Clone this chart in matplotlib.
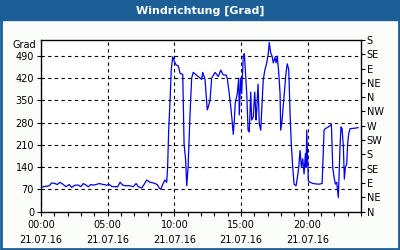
import matplotlib
matplotlib.use("Agg")
import matplotlib.pyplot as plt
from matplotlib.patches import Rectangle
from matplotlib.ticker import MultipleLocator

# hours since 00:00 on 21.07.16 and wind direction in degrees
hours = [0.0, 0.30, 0.62, 0.80, 1.05, 1.22, 1.43, 1.67, 1.88, 2.12, 2.30, 2.55, 2.80, 2.98,
         3.17, 3.38, 3.55, 3.73, 3.92, 4.13, 4.37, 4.67, 4.93, 5.12, 5.30, 5.55, 5.75, 5.93,
         6.13, 6.38, 6.68, 6.92, 7.13, 7.30, 7.55, 7.73, 7.93, 8.18, 8.42, 8.72, 8.87, 8.98,
         9.13, 9.28, 9.43, 9.50, 9.58, 9.68, 9.77, 9.88, 10.00, 10.13, 10.30, 10.43, 10.63,
         10.73, 10.85, 10.93, 11.03, 11.18, 11.30, 11.42, 11.80, 12.05, 12.13, 12.30, 12.38,
         12.47, 12.55, 12.68, 12.80, 13.05, 13.30, 13.48, 13.67, 13.88, 13.97, 14.12, 14.23,
         14.33, 14.42, 14.50, 14.57, 14.72, 14.83, 14.87, 14.98, 15.05, 15.17, 15.25, 15.32,
         15.43, 15.53, 15.62, 15.73, 15.80, 15.92, 16.03, 16.13, 16.18, 16.28, 16.37, 16.48,
         16.58, 16.67, 16.80, 16.93, 17.05, 17.12, 17.23, 17.33, 17.42, 17.55, 17.63, 17.72,
         17.83, 17.93, 17.98, 18.08, 18.23, 18.38, 18.47, 18.58, 18.68, 18.77, 18.88, 18.98,
         19.13, 19.23, 19.33, 19.43, 19.53, 19.63, 19.73, 19.83, 19.88, 19.93, 19.98, 20.05,
         20.18, 20.42, 20.80, 21.08, 21.13, 21.23, 21.33, 21.55, 21.78, 21.88, 21.98, 22.08,
         22.18, 22.22, 22.30, 22.38, 22.43, 22.50, 22.58, 22.68, 22.75, 22.83, 22.93, 23.00,
         23.08, 23.18, 23.48, 23.78]
grad = [76, 79, 81, 90, 88, 85, 92, 85, 78, 85, 76, 83, 83, 78,
        88, 83, 78, 85, 83, 85, 88, 85, 83, 85, 79, 78, 78, 92,
        83, 81, 81, 78, 88, 78, 74, 85, 99, 92, 90, 85, 74, 70,
        85, 99, 92, 145, 261, 351, 447, 487, 473, 462, 458, 435, 432,
        214, 161, 81, 139, 309, 420, 438, 425, 416, 438, 416, 371,
        320, 330, 351, 420, 438, 425, 445, 430, 430, 420, 371, 330,
        288, 243, 288, 341, 371, 420, 304, 420, 371, 489, 497, 447,
        371, 256, 250, 376, 288, 298, 376, 288, 320, 401, 277, 256,
        341, 416, 447, 468, 499, 532, 499, 489, 468, 485, 468, 489,
        438, 371, 256, 288, 362, 438, 465, 447, 309, 214, 139, 86,
        81, 107, 139, 192, 139, 166, 118, 182, 139, 256, 192, 97,
        92, 88, 86, 88, 139, 256, 261, 266, 274, 139, 107, 86,
        92, 76, 44, 139, 207, 266, 261, 202, 102, 139, 150, 214,
        245, 261, 262, 264]

y_ticks = [0, 70, 140, 210, 280, 350, 420, 490]
x_ticks = [0, 5, 10, 15, 20]
x_labels = ["00:00\n21.07.16", "05:00\n21.07.16", "10:00\n21.07.16",
            "15:00\n21.07.16", "20:00\n21.07.16"]
dir_ticks = [0, 45, 90, 135, 180, 225, 270, 315, 360, 405, 450, 495, 540]
dir_labels = ["N", "NE", "E", "SE", "S", "SW", "W", "NW", "N", "NE", "E", "SE", "S"]

blue_bar = "#1b5f96"

fig = plt.figure(figsize=(4, 2.5), dpi=100, facecolor="#fbfdfb")
# title bar and frame
fig.patches.append(Rectangle((0, 0.92), 1, 0.08, transform=fig.transFigure,
                             color=blue_bar, zorder=0))
fig.patches.append(Rectangle((0.002, 0.004), 0.995, 0.995, transform=fig.transFigure,
                             fill=False, edgecolor=blue_bar, linewidth=2, zorder=1))
fig.text(0.5, 0.958, "Windrichtung [Grad]", color="white", fontsize=8,
         fontweight="bold", ha="center", va="center")

ax = fig.add_axes([0.1025, 0.154, 0.8, 0.686])
ax.set_facecolor("white")
ax.plot(hours, grad, color="#0000ee", linewidth=0.9)
ax.set_xlim(0, 24)
ax.set_ylim(0, 540)
ax.set_yticks(y_ticks)
ax.set_xticks(x_ticks)
ax.set_xticklabels(x_labels)
ax.xaxis.set_minor_locator(MultipleLocator(1))
for lab in ax.get_xticklabels():
    lab.set_linespacing(1.7)
ax.tick_params(axis="both", which="major", direction="out", length=3, width=0.8,
               labelsize=7, pad=2)
ax.tick_params(axis="x", which="minor", direction="out", length=3, width=0.8)
ax.tick_params(axis="x", pad=3)
ax.grid(True, color="black", linestyle=(0, (3, 3)), linewidth=0.8)
for s in ax.spines.values():
    s.set_linewidth(0.9)
ax.text(-0.015, 0.97, "Grad", transform=ax.transAxes, ha="right", va="center",
        fontsize=7)

ax2 = ax.twinx()
ax2.set_ylim(0, 540)
ax2.set_yticks(dir_ticks)
ax2.set_yticklabels(dir_labels)
ax2.tick_params(axis="y", direction="out", length=3, width=0.8, labelsize=7, pad=1)

fig.savefig("out.png", dpi=100, facecolor=fig.get_facecolor())
